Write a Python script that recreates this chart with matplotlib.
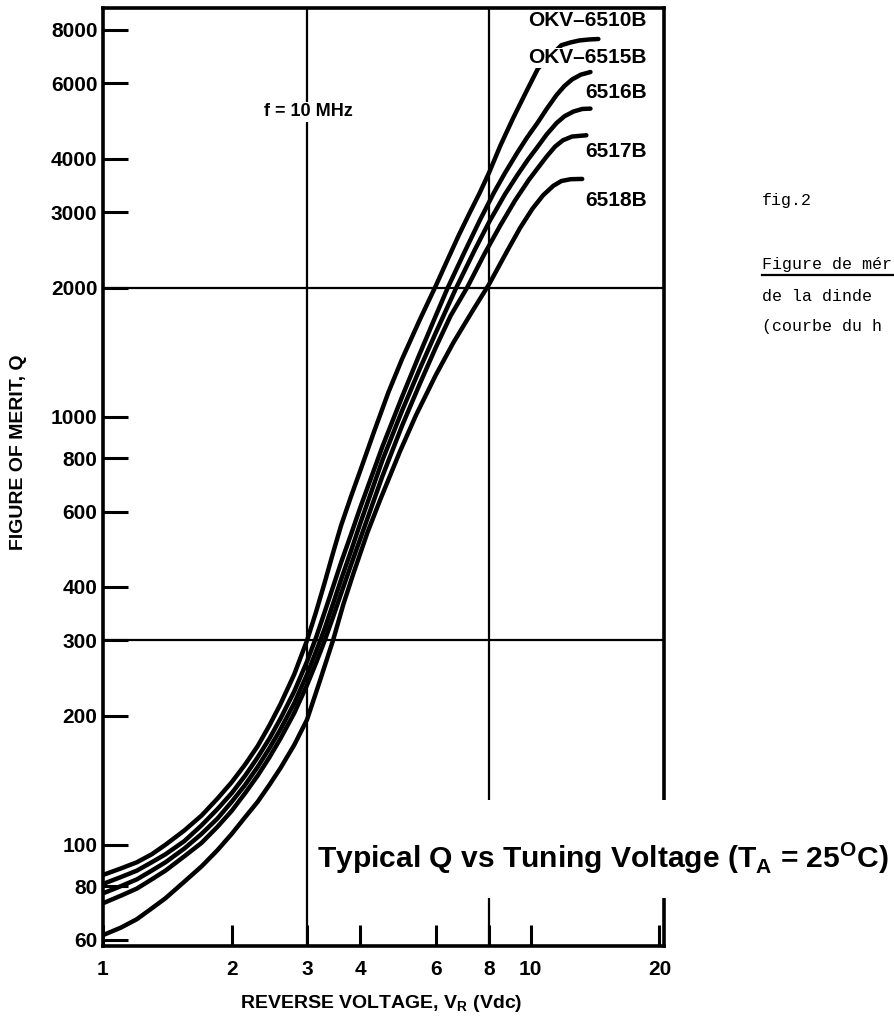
import matplotlib.pyplot as plt
from matplotlib.patches import Rectangle
from matplotlib.lines import Line2D
from matplotlib.ticker import NullLocator

plt.rcParams['font.family'] = ['Liberation Sans', 'DejaVu Sans']
plt.rcParams['font.weight'] = 'bold'
plt.rcParams['axes.labelweight'] = 'bold'

# Reverse voltage (Vdc) and figure of merit Q, one pair per diode
v_6510 = [1.0, 1.1, 1.2, 1.3, 1.4, 1.55, 1.7, 1.85, 2.0, 2.15, 2.3, 2.45, 2.6, 2.8, 3.0, 3.15,
          3.3, 3.45, 3.6, 3.8, 4.0, 4.3, 4.65, 5.0, 5.5, 6.0, 6.4, 6.8, 7.2, 7.6, 8.0, 8.5, 9.1,
          9.8, 10.4, 11.8, 12.4, 13.0, 13.7, 14.4]
q_6510 = [85, 88, 91, 95, 100, 108, 117, 128, 140, 154, 170, 190, 213, 250, 300, 350,
          410, 480, 555, 650, 750, 920, 1140, 1360, 1680, 2020, 2330, 2660, 2990, 3330, 3720, 4300, 4980,
          5780, 6500, 7370, 7480, 7560, 7600, 7620]

v_6515 = [1.0, 1.1, 1.2, 1.3, 1.4, 1.55, 1.7, 1.85, 2.0, 2.15, 2.3, 2.45, 2.6, 2.8, 3.0, 3.15,
          3.3, 3.45, 3.6, 3.8, 4.0, 4.5, 5.0, 5.5, 6.0, 6.4, 7.0, 7.6, 8.2, 8.7, 9.3, 9.8, 10.4,
          10.9, 11.5, 12.0, 12.5, 13.1, 13.8]
q_6515 = [81, 84, 87, 91, 95, 102, 111, 121, 132, 145, 160, 177, 197, 228, 268, 305,
          350, 400, 455, 530, 615, 850, 1110, 1400, 1720, 2000, 2420, 2870, 3330, 3700, 4130, 4480, 4870,
          5230, 5640, 5920, 6130, 6290, 6380]

v_6516 = [1.0, 1.1, 1.2, 1.3, 1.4, 1.55, 1.7, 1.85, 2.0, 2.15, 2.3, 2.45, 2.6, 2.8, 3.0, 3.15,
          3.3, 3.45, 3.6, 3.8, 4.0, 4.5, 5.0, 5.5, 6.0, 6.7, 7.4, 8.0, 8.7, 9.3, 9.85, 10.35,
          10.9, 11.5, 12.0, 12.6, 13.2, 13.8]
q_6516 = [77, 80, 83, 87, 91, 98, 106, 115, 126, 138, 152, 168, 186, 214, 250, 283,
          320, 365, 415, 485, 565, 790, 1030, 1290, 1570, 2000, 2450, 2850, 3300, 3660, 3980, 4250,
          4560, 4850, 5030, 5160, 5230, 5240]

v_6517 = [1.0, 1.1, 1.2, 1.3, 1.4, 1.55, 1.7, 1.85, 2.0, 2.15, 2.3, 2.45, 2.6, 2.8, 3.0, 3.15,
          3.3, 3.45, 3.6, 3.8, 4.0, 4.5, 5.0, 5.5, 6.0, 6.5, 7.1, 7.8, 8.5, 9.2, 9.9, 10.4,
          10.9, 11.4, 11.9, 12.5, 13.5]
q_6517 = [73, 76, 79, 83, 87, 94, 101, 110, 120, 132, 145, 160, 177, 203, 236, 266,
          300, 340, 385, 450, 520, 725, 950, 1190, 1450, 1720, 2000, 2400, 2800, 3200, 3570, 3810,
          4050, 4270, 4420, 4510, 4540]

v_6518 = [1.0, 1.1, 1.2, 1.3, 1.4, 1.55, 1.7, 1.85, 2.0, 2.15, 2.3, 2.45, 2.6, 2.8, 3.0, 3.2,
          3.45, 3.65, 3.85, 4.15, 4.45, 4.95, 5.4, 6.0, 6.6, 7.3, 8.0, 8.8, 9.45, 10.1, 10.7,
          11.3, 11.8, 12.4, 13.2]
q_6518 = [61.5, 64, 67, 71, 75, 82, 89, 97, 106, 116, 126, 138, 151, 171, 196, 238,
          300, 365, 430, 535, 640, 830, 1010, 1250, 1490, 1760, 2040, 2430, 2760, 3060, 3290,
          3460, 3550, 3585, 3590]

curve_names = ['OKV–6510B', 'OKV–6515B', '6516B', '6517B', '6518B']
label_q = [8400, 6890, 5710, 4150, 3190]

x_ticks = [1, 2, 3, 4, 6, 8, 10, 20]
y_ticks = [60, 80, 100, 200, 300, 400, 600, 800, 1000, 2000, 3000, 4000, 6000, 8000]

fig = plt.figure(figsize=(8.94, 10.18), dpi=100)
ax = fig.add_axes([0.1152, 0.0707, 0.6275, 0.9214])
ax.set_xscale('log')
ax.set_yscale('log')
ax.set_xlim(1, 20.5)
ax.set_ylim(58, 9000)

for v, q in [(v_6510, q_6510), (v_6515, q_6515), (v_6516, q_6516),
             (v_6517, q_6517), (v_6518, q_6518)]:
    ax.plot(v, q, color='black', lw=3.2, solid_capstyle='round', solid_joinstyle='round', zorder=2.2)

# the two grid lines each way
ax.axvline(3, color='black', lw=1.6, zorder=2)
ax.axvline(8, color='black', lw=1.6, zorder=2)
ax.axhline(300, color='black', lw=1.6, zorder=2)
ax.axhline(2000, color='black', lw=1.6, zorder=2)

ax.xaxis.set_minor_locator(NullLocator())
ax.yaxis.set_minor_locator(NullLocator())
ax.set_xticks(x_ticks)
ax.set_xticklabels([str(t) for t in x_ticks])
ax.set_yticks(y_ticks)
ax.set_yticklabels([str(t) for t in y_ticks])
ax.tick_params(axis='x', direction='in', length=15, width=2.2, pad=10, labelsize=15)
ax.tick_params(axis='y', direction='in', length=18, width=2.2, pad=4, labelsize=15)
for s in ax.spines.values():
    s.set_linewidth(2.6)

for name, yq in zip(curve_names, label_q):
    ax.text(18.7, yq, name, ha='right', va='center', fontsize=15,
            bbox=dict(facecolor='white', edgecolor='none', pad=0.5), zorder=4)

ax.text(3.02, 5150, 'f = 10 MHz', ha='center', va='center', fontsize=13,
        bbox=dict(facecolor='white', edgecolor='none', pad=1), zorder=4)

# white band that breaks the right frame and the 8 V line behind the caption
ax.add_patch(Rectangle((3.1, 75), 22 - 3.1, 127 - 75, facecolor='white', edgecolor='none',
                       zorder=2.6, clip_on=False))
ax.text(0.381, 0.083, r'Typical Q vs Tuning Voltage (T$_\mathregular{A}$ = 25$^\mathregular{O}$C)',
        transform=ax.transAxes, ha='left', va='baseline', fontsize=21.6, zorder=5)

ax.set_xlabel(r'REVERSE VOLTAGE, V$_\mathregular{R}$ (Vdc)', fontsize=14)
ax.xaxis.set_label_coords(0.496, -0.050)
ax.set_ylabel('FIGURE OF MERIT, Q', fontsize=14)
ax.yaxis.set_label_coords(-0.135, 0.527)

# typed note on the right, cut by the page edge
mono = dict(family='Liberation Mono', weight='normal', fontsize=12, va='center')
fig.text(0.852, 0.8035, 'fig.2', **mono)
fig.text(0.852, 0.7397, 'Figure de mér', **mono)
fig.add_artist(Line2D([0.852, 1.0], [0.7299, 0.7299], color='black', lw=1.6))
fig.text(0.852, 0.7083, 'de la dinde', **mono)
fig.text(0.852, 0.6788, '(courbe du h', **mono)

fig.savefig('out.png', dpi=100)
